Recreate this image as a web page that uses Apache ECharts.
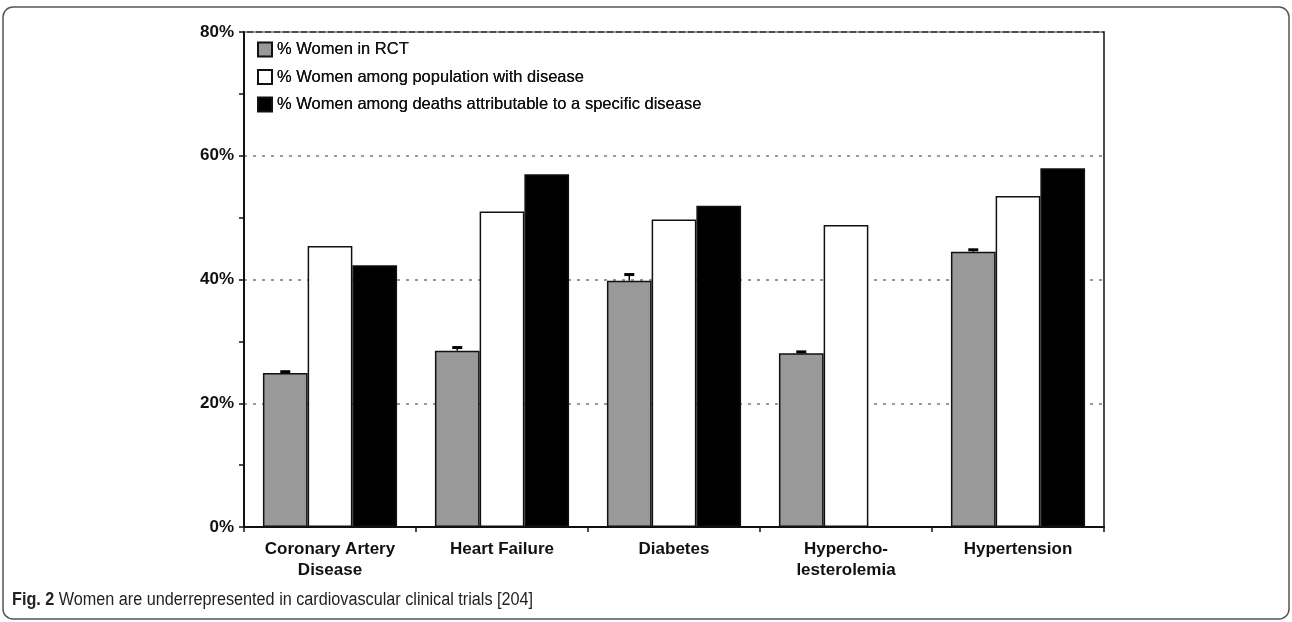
<!DOCTYPE html>
<html>
<head>
<meta charset="utf-8">
<script src="https://cdn.jsdelivr.net/npm/echarts@6/dist/echarts.min.js"></script>
<style>
  html, body { margin: 0; padding: 0; background: #fff; }
  #chart { width: 1292px; height: 622px; }
</style>
</head>
<body>
<div id="chart"></div>
<script>
// categories and values (percent)
var categories = ['Coronary Artery\nDisease', 'Heart Failure', 'Diabetes', 'Hypercho-\nlesterolemia', 'Hypertension']
var seriesNames = [
  '% Women in RCT',
  '% Women among population with disease',
  '% Women among deaths attributable to a specific disease'
]
var womenInRct = [24.9, 28.5, 39.8, 28.1, 44.5]
var womenRctUpper = [25.1, 29.0, 40.8, 28.3, 44.8]
var womenWithDisease = [45.4, 51.0, 49.7, 48.8, 53.5]
var womenAmongDeaths = [42.3, 57.0, 51.9, null, 58.0]
var yTicks = [0, 20, 40, 60, 80]

var chart = echarts.init(document.getElementById('chart'))
var font = 'Liberation Sans, Arial, sans-serif'
var catGap = 0.22

var option = {
  animation: false,
  textStyle: { fontFamily: font },
  grid: {
    left: 244, right: 188, top: 32, bottom: 95,
    show: true, borderColor: '#111', borderWidth: 1.5
  },
  legend: {
    data: seriesNames,
    orient: 'vertical',
    left: 252, top: 36,
    itemWidth: 14, itemHeight: 14, itemGap: 10.5,
    icon: 'rect',
    textStyle: { fontSize: 16.5, color: '#111', fontFamily: font, textShadowColor: '#111', textShadowBlur: 0.5 }
  },
  xAxis: {
    type: 'category',
    data: categories,
    axisLine: { lineStyle: { color: '#111', width: 2 } },
    axisTick: { show: true, length: 5, lineStyle: { color: '#111', width: 1.5 } },
    axisLabel: { fontSize: 17, fontWeight: 'bold', color: '#111', margin: 12, lineHeight: 21 }
  },
  yAxis: {
    type: 'value',
    min: 0, max: 80, interval: 20,
    axisLine: { show: true, lineStyle: { color: '#111', width: 2 } },
    axisTick: { show: true, length: 5, lineStyle: { color: '#111', width: 1.5 } },
    minorTick: { show: true, splitNumber: 2, length: 5, lineStyle: { color: '#111', width: 1.5 } },
    axisLabel: {
      fontSize: 17, fontWeight: 'bold', color: '#111', margin: 10,
      formatter: function (v) { return yTicks.indexOf(v) >= 0 ? v + '%' : '' }
    },
    splitLine: { lineStyle: { color: '#9a9a9a', width: 2, type: [3, 6] } }
  },
  series: [
    {
      name: seriesNames[0], type: 'bar', data: womenInRct,
      barGap: '0%', barCategoryGap: (catGap * 100) + '%',
      itemStyle: { color: '#999999', borderColor: '#111', borderWidth: 1.5 }
    },
    {
      name: seriesNames[1], type: 'bar', data: womenWithDisease,
      itemStyle: { color: '#ffffff', borderColor: '#111', borderWidth: 1.5 }
    },
    {
      name: seriesNames[2], type: 'bar', data: womenAmongDeaths,
      itemStyle: { color: '#000000', borderColor: '#111', borderWidth: 1.5 }
    },
    {
      // small error caps on top of the RCT bars
      type: 'custom',
      silent: true,
      z: 5,
      data: womenInRct.map(function (v, i) { return [i, womenRctUpper[i], v] }),
      renderItem: function (params, api) {
        var idx = api.value(0)
        var top = api.coord([idx, api.value(1)])
        var base = api.coord([idx, api.value(2)])
        var band = api.size([1, 0])[0]
        var bw = band * (1 - catGap) / 3
        var x = top[0] - bw
        return {
          type: 'group',
          children: [
            { type: 'line', shape: { x1: x, y1: base[1], x2: x, y2: top[1] }, style: { stroke: '#000', lineWidth: 1.5 } },
            { type: 'rect', shape: { x: x - 5, y: top[1] - 1.5, width: 10, height: 3 }, style: { fill: '#000' } }
          ]
        }
      }
    }
  ],
  graphic: [
    {
      type: 'rect',
      shape: { x: 3, y: 7, width: 1286, height: 612, r: 10 },
      style: { fill: 'none', stroke: '#555', lineWidth: 1.5 },
      silent: true
    },
    {
      type: 'text',
      x: 12, y: 600,
      scaleX: 0.9,
      style: {
        text: '{b|Fig. 2} Women are underrepresented in cardiovascular clinical trials [204]',
        fontFamily: font,
        fontSize: 18, fill: '#222',
        verticalAlign: 'middle',
        rich: { b: { fontWeight: 'bold', fontSize: 18, fontFamily: font } }
      }
    }
  ]
}

chart.setOption(option)
</script>
</body>
</html>
